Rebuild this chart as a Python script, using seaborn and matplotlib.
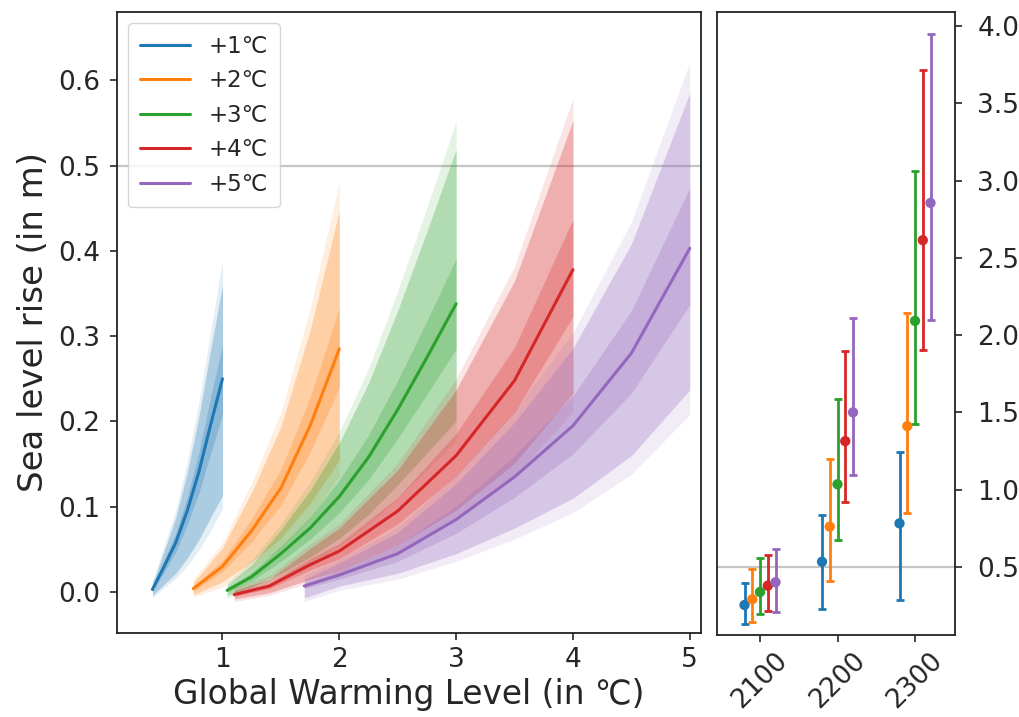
import numpy as np
import pandas as pd
import matplotlib
matplotlib.use("Agg")
import matplotlib.pyplot as plt
import seaborn as sns

# ---------------- data ----------------
labels = ["+1℃", "+2℃", "+3℃", "+4℃", "+5℃"]

# left panel: x (GWL), median, and three nested bands (outer, middle, inner)
x1 = [0.4, 0.5, 0.6, 0.7, 0.8, 0.9, 1.0]
mid1 = [0.003, 0.03, 0.058, 0.096, 0.142, 0.197, 0.25]
lo_out1 = [-0.007, 0.005, 0.016, 0.031, 0.05, 0.072, 0.098]
lo_mid1 = [-0.004, 0.009, 0.022, 0.040, 0.062, 0.088, 0.113]
lo_in1 = [0.001, 0.023, 0.047, 0.079, 0.117, 0.163, 0.208]
hi_in1 = [0.005, 0.037, 0.069, 0.112, 0.165, 0.229, 0.29]
hi_mid1 = [0.009, 0.048, 0.087, 0.141, 0.207, 0.285, 0.36]
hi_out1 = [0.013, 0.054, 0.096, 0.154, 0.224, 0.307, 0.388]

x2 = [0.75, 1.0, 1.25, 1.5, 1.75, 2.0]
mid2 = [0.004, 0.03, 0.072, 0.122, 0.195, 0.285]
lo_out2 = [-0.006, 0.006, 0.027, 0.051, 0.086, 0.137]
lo_mid2 = [-0.003, 0.012, 0.035, 0.063, 0.104, 0.155]
lo_in2 = [0.001, 0.024, 0.059, 0.102, 0.164, 0.240]
hi_in2 = [0.007, 0.037, 0.086, 0.144, 0.228, 0.333]
hi_mid2 = [0.011, 0.052, 0.117, 0.194, 0.307, 0.447]
hi_out2 = [0.015, 0.058, 0.128, 0.211, 0.332, 0.481]

x3 = [1.04, 1.25, 1.5, 1.75, 2.0, 2.25, 2.5, 2.75, 3.0]
mid3 = [0.002, 0.018, 0.045, 0.075, 0.112, 0.158, 0.214, 0.275, 0.338]
lo_out3 = [-0.007, 0.002, 0.017, 0.033, 0.054, 0.079, 0.110, 0.143, 0.178]
lo_mid3 = [-0.004, 0.006, 0.022, 0.041, 0.063, 0.091, 0.126, 0.163, 0.201]
lo_in3 = [0.000, 0.013, 0.036, 0.062, 0.093, 0.132, 0.180, 0.232, 0.285]
hi_in3 = [0.004, 0.023, 0.054, 0.088, 0.131, 0.184, 0.248, 0.318, 0.391]
hi_mid3 = [0.008, 0.032, 0.073, 0.119, 0.175, 0.245, 0.330, 0.423, 0.519]
hi_out3 = [0.011, 0.037, 0.080, 0.129, 0.188, 0.262, 0.353, 0.451, 0.552]

x4 = [1.1, 1.4, 1.75, 2.0, 2.5, 3.0, 3.5, 4.0]
mid4 = [-0.003, 0.007, 0.032, 0.048, 0.095, 0.16, 0.248, 0.378]
lo_out4 = [-0.011, -0.004, 0.011, 0.020, 0.047, 0.085, 0.136, 0.211]
lo_mid4 = [-0.008, -0.001, 0.015, 0.025, 0.055, 0.096, 0.151, 0.233]
lo_in4 = [-0.005, 0.004, 0.026, 0.039, 0.080, 0.136, 0.211, 0.323]
hi_in4 = [-0.001, 0.010, 0.039, 0.057, 0.111, 0.186, 0.287, 0.437]
hi_mid4 = [0.002, 0.015, 0.051, 0.075, 0.143, 0.237, 0.365, 0.553]
hi_out4 = [0.005, 0.019, 0.056, 0.080, 0.151, 0.250, 0.382, 0.579]

x5 = [1.7, 2.0, 2.5, 3.0, 3.5, 4.0, 4.5, 5.0]
mid5 = [0.007, 0.02, 0.045, 0.085, 0.135, 0.195, 0.28, 0.403]
lo_out5 = [-0.011, 0.002, 0.015, 0.036, 0.062, 0.093, 0.138, 0.208]
lo_mid5 = [-0.007, 0.007, 0.022, 0.045, 0.075, 0.110, 0.160, 0.237]
lo_in5 = [0.004, 0.015, 0.036, 0.069, 0.111, 0.162, 0.233, 0.337]
hi_in5 = [0.010, 0.025, 0.055, 0.101, 0.160, 0.230, 0.330, 0.474]
hi_mid5 = [0.015, 0.034, 0.070, 0.127, 0.199, 0.286, 0.408, 0.585]
hi_out5 = [0.019, 0.038, 0.076, 0.137, 0.213, 0.304, 0.434, 0.621]

# right panel: years and sea level rise (median, low, high) per GWL
years = [2100, 2200, 2300]
year_offsets = [-20, -10, 0, 10, 20]
rp_mid = [[0.254, 0.534, 0.782],
          [0.291, 0.761, 1.411],
          [0.338, 1.035, 2.092],
          [0.379, 1.314, 2.614],
          [0.401, 1.500, 2.855]]
rp_lo = [[0.131, 0.228, 0.287],
         [0.142, 0.410, 0.847],
         [0.194, 0.675, 1.424],
         [0.218, 0.922, 1.903],
         [0.211, 1.095, 2.097]]
rp_hi = [[0.395, 0.836, 1.245],
         [0.489, 1.200, 2.146],
         [0.556, 1.584, 3.062],
         [0.578, 1.896, 3.717],
         [0.614, 2.110, 3.945]]

threshold = 0.5

# ---------------- plotting ----------------
sns.set_style("ticks")
plt.rcParams["font.family"] = ["DejaVu Sans"]
colors = sns.color_palette("tab10", 5)

fig = plt.figure(figsize=(10.19, 7.17), dpi=100)
W, H = 1019, 717
ax1 = fig.add_axes([117 / W, 1 - 633 / H, (701 - 117) / W, (633 - 12) / H])
ax2 = fig.add_axes([717 / W, 1 - 635 / H, (955 - 717) / W, (635 - 12) / H])

series = [
    (x1, mid1, lo_out1, lo_mid1, lo_in1, hi_in1, hi_mid1, hi_out1),
    (x2, mid2, lo_out2, lo_mid2, lo_in2, hi_in2, hi_mid2, hi_out2),
    (x3, mid3, lo_out3, lo_mid3, lo_in3, hi_in3, hi_mid3, hi_out3),
    (x4, mid4, lo_out4, lo_mid4, lo_in4, hi_in4, hi_mid4, hi_out4),
    (x5, mid5, lo_out5, lo_mid5, lo_in5, hi_in5, hi_mid5, hi_out5),
]

for i, (x, m, lo_o, lo_m, lo_i, hi_i, hi_m, hi_o) in enumerate(series):
    c = colors[i]
    ax1.fill_between(x, lo_o, hi_o, color=c, alpha=0.12, lw=0)
    ax1.fill_between(x, lo_m, hi_m, color=c, alpha=0.28, lw=0)
    ax1.fill_between(x, lo_i, hi_i, color=c, alpha=0.25, lw=0)
    df = pd.DataFrame({"x": x, "y": m})
    sns.lineplot(data=df, x="x", y="y", ax=ax1, color=c, lw=2.2,
                 label=labels[i], sort=False)

ax1.axhline(threshold, color="gray", alpha=0.45, lw=1.6, zorder=0.5)
ax1.set_xlim(0.097, 5.096)
ax1.set_ylim(-0.048, 0.68)
ax1.set_xticks([1, 2, 3, 4, 5])
ax1.set_yticks([0.0, 0.1, 0.2, 0.3, 0.4, 0.5, 0.6])
ax1.tick_params(labelsize=19, length=5, width=1.2)
ax1.tick_params(axis="y", pad=7)
ax1.tick_params(axis="x", pad=5)
ax1.set_xlabel("Global Warming Level (in ℃)", fontsize=23.6)
ax1.set_ylabel("Sea level rise (in m)", fontsize=24.5, labelpad=6)
leg = ax1.legend(loc="upper left", fontsize=16.5, frameon=True,
                 handlelength=2.2, borderpad=0.5, labelspacing=0.5)
for line in leg.get_lines():
    line.set_linewidth(2.2)

# right panel
for i in range(5):
    xs = [y + year_offsets[i] for y in years]
    m = np.array(rp_mid[i])
    lo = m - np.array(rp_lo[i])
    hi = np.array(rp_hi[i]) - m
    ax2.errorbar(xs, m, yerr=[lo, hi], fmt="none", ecolor=colors[i],
                 elinewidth=2, capsize=3, capthick=2)
    sns.scatterplot(x=xs, y=m, ax=ax2, color=colors[i], s=55,
                    edgecolor="none", zorder=3)

ax2.axhline(threshold, color="gray", alpha=0.45, lw=1.6, zorder=0.5)
ax2.set_xlim(2044.5, 2351.6)
ax2.set_ylim(0.06, 4.09)
ax2.set_xticks(years)
ax2.set_xticklabels([str(y) for y in years], rotation=45)
ax2.set_yticks([0.5, 1.0, 1.5, 2.0, 2.5, 3.0, 3.5, 4.0])
ax2.yaxis.tick_right()
ax2.tick_params(labelsize=19, length=5, width=1.2)
ax2.tick_params(axis="y", pad=11)
ax2.tick_params(axis="x", pad=4)

for ax in (ax1, ax2):
    for s in ax.spines.values():
        s.set_visible(True)
        s.set_linewidth(1.3)
        s.set_color("#222222")

fig.savefig("out.png", dpi=100)
